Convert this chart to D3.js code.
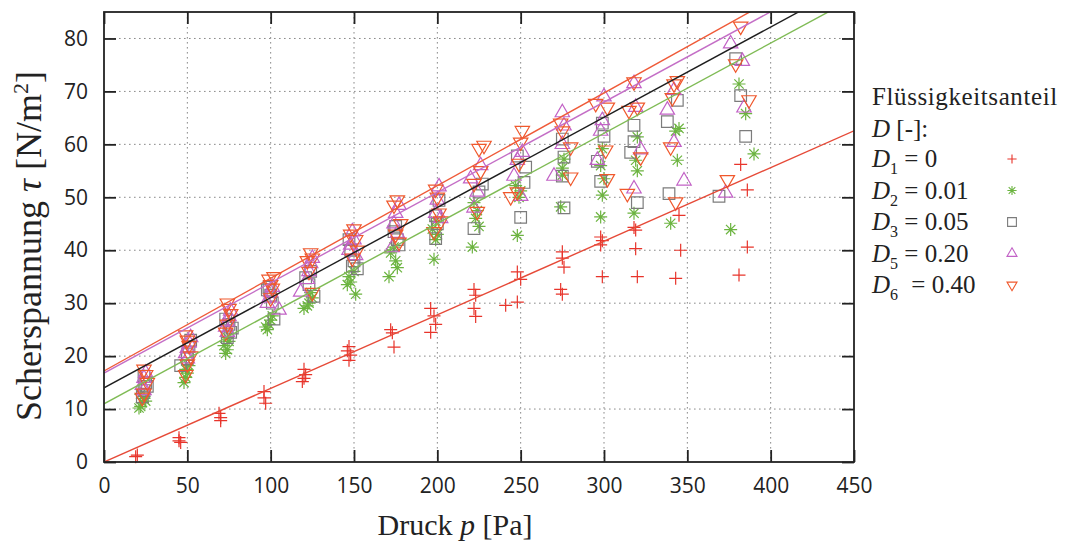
<!DOCTYPE html>
<html>
<head>
<meta charset="utf-8">
<script src="https://cdn.jsdelivr.net/npm/d3@7"></script>
<style>
  body { margin: 0; background: #fff; }
  svg { display: block; }
</style>
</head>
<body>
<svg id="chart" width="1076" height="542"></svg>
<script>
// Measured shear stress vs. normal pressure for five liquid contents D.
// Each series: pressure p [Pa] and shear stress tau [N/m^2].
const d1Druck = [19,20,45,45,46,69,70,70,96,96,97,120,121,120,119,147,146,148,147,172,173,174,
  196,198,199,196,222,223,222,223,241,248,248,250,275,275,276,274,275,298,299,298,299,
  318,319,319,320,345,346,343,382,386,386,381];
const d1Tau = [1.0,1.3,4.6,4.0,3.7,9.2,8.4,7.8,13.3,12.1,11.1,17.5,16.5,15.8,15.2,21.8,21.0,20.2,19.2,25.0,24.4,21.7,
  29.0,27.6,26.0,24.5,32.6,31.5,29.0,27.5,29.6,30.2,35.9,34.5,39.7,38.5,36.8,32.6,31.7,42.5,41.8,41.0,35.0,
  44.3,43.8,40.3,35.0,46.6,40.0,34.7,56.2,51.4,40.6,35.3];

const d2Druck = [21,22,23,24,22,25,48,49,50,49,51,73,74,72,75,74,97,98,99,100,101,120,122,123,125,124,
  146,147,148,150,151,171,172,174,175,176,197,198,199,200,199,221,222,223,224,225,247,248,249,250,
  274,275,275,276,298,298,299,299,300,318,319,320,320,340,344,343,345,376,381,385,390];
const d2Tau = [10.2,10.5,11.2,12.0,12.8,11.5,15.0,16.0,16.8,17.5,18.2,20.5,21.2,22.0,22.8,23.5,25.5,25.0,26.0,26.8,27.6,29.0,29.5,30.0,31.0,32.0,
  33.5,35.0,34.0,36.0,31.7,35.0,39.5,40.6,38.0,36.7,44.0,38.3,42.0,43.0,45.5,40.6,49.0,46.0,47.5,44.5,52.2,42.8,50.0,51.2,
  48.2,54.2,55.5,57.2,46.3,56.0,50.4,59.2,53.5,47.0,57.0,55.0,61.4,45.1,57.0,62.5,63.0,43.9,71.4,65.8,58.2];

const d3Druck = [23,24,25,24,26,46,50,51,52,50,73,75,76,74,77,99,100,101,102,98,121,124,126,123,
  148,150,149,152,147,174,176,177,175,199,200,201,199,222,225,227,250,252,253,248,
  276,275,276,275,298,296,300,299,318,318,320,316,344,338,339,369,379,382,385];
const d3Tau = [12.3,13.5,15.0,16.2,14.3,18.2,20.3,21.8,23.0,19.5,27.0,26.0,24.5,23.5,25.3,33.0,31.5,30.0,27.0,32.5,34.8,36.0,31.3,33.5,
  40.0,38.0,37.0,36.5,42.0,43.5,42.0,41.0,44.5,42.2,45.0,49.4,46.5,44.1,51.0,52.5,46.2,52.8,55.7,57.8,
  48.0,54.0,57.6,61.0,53.0,56.8,61.5,64.0,63.6,60.5,49.0,58.5,68.3,64.3,50.7,50.2,76.2,69.2,61.5];

const d5Druck = [23,24,25,24,49,50,51,52,50,73,74,75,76,74,98,99,100,101,105,118,123,124,125,122,
  147,148,150,151,149,174,175,177,176,173,199,200,201,202,220,222,224,226,246,248,251,250,
  270,275,276,275,296,298,299,300,318,319,322,318,338,342,342,348,376,383,384,373];
const d5Tau = [14.5,15.8,16.8,13.5,20.5,21.5,22.5,23.5,19.5,25.5,26.5,27.5,28.5,24.5,30.0,31.0,32.0,33.0,28.7,32.1,36.0,37.5,38.5,34.5,
  40.0,41.0,42.0,39.0,43.5,45.0,47.0,48.5,43.2,40.5,47.0,49.5,52.0,46.0,53.5,48.0,51.0,56.0,54.0,57.0,58.5,50.2,
  54.0,60.0,63.5,66.0,57.0,62.5,64.5,69.0,71.5,67.0,59.0,51.6,66.5,70.2,60.4,53.1,79.0,75.7,66.9,50.8];

const d6Druck = [24,25,26,24,23,49,50,51,52,50,49,74,75,76,74,73,99,100,101,102,100,122,124,125,123,125,
  148,150,151,149,152,174,176,178,177,175,199,200,201,202,198,225,228,222,224,226,251,250,249,244,248,
  274,275,280,280,295,302,301,302,318,315,322,314,320,342,344,341,340,343,382,379,387,374];
const d6Tau = [17.5,16.5,15.0,13.0,12.2,24.0,23.0,22.0,20.0,18.5,16.5,30.0,29.0,28.0,26.0,24.5,34.5,33.5,32.8,35.0,31.0,38.0,39.5,38.5,36.0,32.0,
  43.0,44.0,42.0,38.5,40.0,48.5,49.5,45.0,41.5,43.0,51.5,50.0,47.0,45.5,43.5,59.2,59.8,52.6,47.3,55.0,62.6,60.4,56.4,50.1,51.0,
  64.0,62.5,59.5,53.8,67.7,67.0,58.9,53.5,71.8,66.4,57.6,50.7,67.0,71.4,72.0,68.8,59.5,49.1,82.3,75.2,68.4,53.3];

// Linear fits tau = a + b * p for each series
const fitIntercept = [0.0, 11.0, 14.0, 16.8, 17.2];
const fitSlope = [0.139, 0.1703, 0.1704, 0.1706, 0.175];

// Legend entries
const legendSub = ["1", "2", "3", "5", "6"];
const legendValue = ["0", "0.01", "0.05", "0.20", "0.40"];

// Axis ticks
const xTicks = [0, 50, 100, 150, 200, 250, 300, 350, 400, 450];
const yTicks = [0, 10, 20, 30, 40, 50, 60, 70, 80];

// ---------------------------------------------------------------
const markerColor = ["#e8342b", "#6cb440", "#7c7c7c", "#c262c6", "#f0582c"];
const lineColor = ["#e64a38", "#7fbb55", "#1e1e1e", "#c46ec6", "#ef5a38"];

const druck = [d1Druck, d2Druck, d3Druck, d5Druck, d6Druck];
const tau = [d1Tau, d2Tau, d3Tau, d5Tau, d6Tau];

// symbol types (size = r^2)
const symPlus = { draw(c, s) { const r = Math.sqrt(s);
  c.moveTo(-r, 0); c.lineTo(r, 0); c.moveTo(0, -r); c.lineTo(0, r); } };
const symStar = { draw(c, s) { const r = Math.sqrt(s), q = r * 0.72;
  c.moveTo(-r, 0); c.lineTo(r, 0); c.moveTo(0, -r); c.lineTo(0, r);
  c.moveTo(-q, -q); c.lineTo(q, q); c.moveTo(-q, q); c.lineTo(q, -q); } };
const symSquare = { draw(c, s) { const r = Math.sqrt(s);
  c.moveTo(-r, -r); c.lineTo(r, -r); c.lineTo(r, r); c.lineTo(-r, r); c.closePath(); } };
const symTriUp = { draw(c, s) { const r = Math.sqrt(s), h = r * 1.732;
  c.moveTo(0, -2 * h / 3); c.lineTo(r, h / 3); c.lineTo(-r, h / 3); c.closePath(); } };
const symTriDown = { draw(c, s) { const r = Math.sqrt(s), h = r * 1.732;
  c.moveTo(0, 2 * h / 3); c.lineTo(r, -h / 3); c.lineTo(-r, -h / 3); c.closePath(); } };
const symbols = [symPlus, symStar, symSquare, symTriUp, symTriDown];
const markerR = [6.5, 6.5, 5.8, 7.2, 7.2];
const legendR = [4.6, 4.6, 4.4, 5.0, 5.0];

const svg = d3.select("#chart");
const W = 1076, H = 542;
const plot = { left: 104, top: 12, right: 854, bottom: 462 };

const x = d3.scaleLinear().domain([0, 450]).range([plot.left, plot.right]);
const y = d3.scaleLinear().domain([0, 85]).range([plot.bottom, plot.top]);

svg.append("rect").attr("width", W).attr("height", H).attr("fill", "#fff");

svg.append("defs").append("clipPath").attr("id", "plotClip")
  .append("rect")
  .attr("x", plot.left).attr("y", plot.top)
  .attr("width", plot.right - plot.left).attr("height", plot.bottom - plot.top);

// dotted grid
const grid = svg.append("g").attr("stroke", "#8a8a8a").attr("stroke-width", 1)
  .attr("stroke-dasharray", "1.6,3.4");
grid.selectAll("line.gx").data(xTicks.filter(v => v > 0 && v < 450)).join("line")
  .attr("x1", d => x(d)).attr("x2", d => x(d))
  .attr("y1", plot.top).attr("y2", plot.bottom);
grid.selectAll("line.gy").data(yTicks.filter(v => v > 0)).join("line")
  .attr("y1", d => y(d)).attr("y2", d => y(d))
  .attr("x1", plot.left).attr("x2", plot.right);

// axes with inward ticks on all four sides
const tickLen = 12;
const styleAxis = g => {
  g.select(".domain").remove();
  g.selectAll(".tick line").attr("stroke", "#222").attr("stroke-width", 1.8);
  g.selectAll(".tick text").attr("fill", "#222")
    .style("font-family", "'Open Sans', 'Noto Sans', sans-serif").style("font-size", "21px");
};
svg.append("g").attr("transform", `translate(0,${plot.bottom})`)
  .call(d3.axisBottom(x).tickValues(xTicks).tickSizeInner(-tickLen).tickSizeOuter(0).tickPadding(16))
  .call(styleAxis);
svg.append("g").attr("transform", `translate(0,${plot.top})`)
  .call(d3.axisTop(x).tickValues(xTicks).tickSizeInner(-tickLen).tickSizeOuter(0).tickFormat(""))
  .call(styleAxis);
svg.append("g").attr("transform", `translate(${plot.left},0)`)
  .call(d3.axisLeft(y).tickValues(yTicks).tickSizeInner(-tickLen).tickSizeOuter(0).tickPadding(16))
  .call(styleAxis);
svg.append("g").attr("transform", `translate(${plot.right},0)`)
  .call(d3.axisRight(y).tickValues(yTicks).tickSizeInner(-tickLen).tickSizeOuter(0).tickFormat(""))
  .call(styleAxis);

// data points
const pts = svg.append("g").attr("fill", "none");
druck.forEach((ps, i) => {
  const sym = d3.symbol().type(symbols[i]).size(markerR[i] * markerR[i]);
  pts.append("g").attr("stroke", markerColor[i]).attr("stroke-width", 1.2)
    .selectAll("path").data(ps.map((p, k) => [p, tau[i][k]])).join("path")
    .attr("transform", d => `translate(${x(d[0])},${y(d[1])})`)
    .attr("d", sym());
});

// fitted lines
const fitLine = d3.line().x(d => x(d[0])).y(d => y(d[1]));
const lines = svg.append("g").attr("clip-path", "url(#plotClip)").attr("fill", "none");
fitIntercept.forEach((a, i) => {
  const b = fitSlope[i];
  lines.append("path")
    .attr("d", fitLine([0, 450].map(p => [p, a + b * p])))
    .attr("stroke", lineColor[i]).attr("stroke-width", 1.4);
});

// frame
svg.append("rect")
  .attr("x", plot.left).attr("y", plot.top)
  .attr("width", plot.right - plot.left).attr("height", plot.bottom - plot.top)
  .attr("fill", "none").attr("stroke", "#222").attr("stroke-width", 1.8);

// axis titles
const serif = "'Liberation Serif', 'Times New Roman', serif";
const xt = svg.append("text").attr("x", 455).attr("y", 535).attr("text-anchor", "middle")
  .style("font-family", serif).style("font-size", "30px").attr("fill", "#222");
xt.append("tspan").text("Druck ");
xt.append("tspan").attr("font-style", "italic").text("p");
xt.append("tspan").text(" [Pa]");

const yt = svg.append("text").attr("transform", "translate(41,246) rotate(-90)")
  .attr("text-anchor", "middle")
  .style("font-family", serif).style("font-size", "36px").attr("fill", "#222");
yt.append("tspan").text("Scherspannung ");
yt.append("tspan").attr("font-style", "italic").text("τ");
yt.append("tspan").text(" [N/m");
yt.append("tspan").attr("dy", -13).attr("font-size", "22px").text("2");
yt.append("tspan").attr("dy", 13).text("]");

// legend
const leg = svg.append("g").style("font-family", serif).style("font-size", "25px").attr("fill", "#222");
leg.append("text").attr("x", 872).attr("y", 105).attr("letter-spacing", 0.6).text("Flüssigkeitsanteil");
const lt = leg.append("text").attr("x", 872).attr("y", 137);
lt.append("tspan").attr("font-style", "italic").text("D");
lt.append("tspan").text(" [-]:");
const rowY = i => 167 + i * 31.5;
legendSub.forEach((s, i) => {
  const t = leg.append("text").attr("x", 872).attr("y", rowY(i));
  t.append("tspan").attr("font-style", "italic").text("D");
  t.append("tspan").attr("dy", 7).attr("font-size", "16px").text(s);
  t.append("tspan").attr("dy", -7).attr("dx", i === 4 ? 7 : 0).text(" = " + legendValue[i]);
  const sym = d3.symbol().type(symbols[i]).size(legendR[i] * legendR[i]);
  leg.append("path")
    .attr("transform", `translate(1012,${rowY(i) - 8})`)
    .attr("d", sym()).attr("fill", "none")
    .attr("stroke", markerColor[i]).attr("stroke-width", 1.1);
});
</script>
</body>
</html>
